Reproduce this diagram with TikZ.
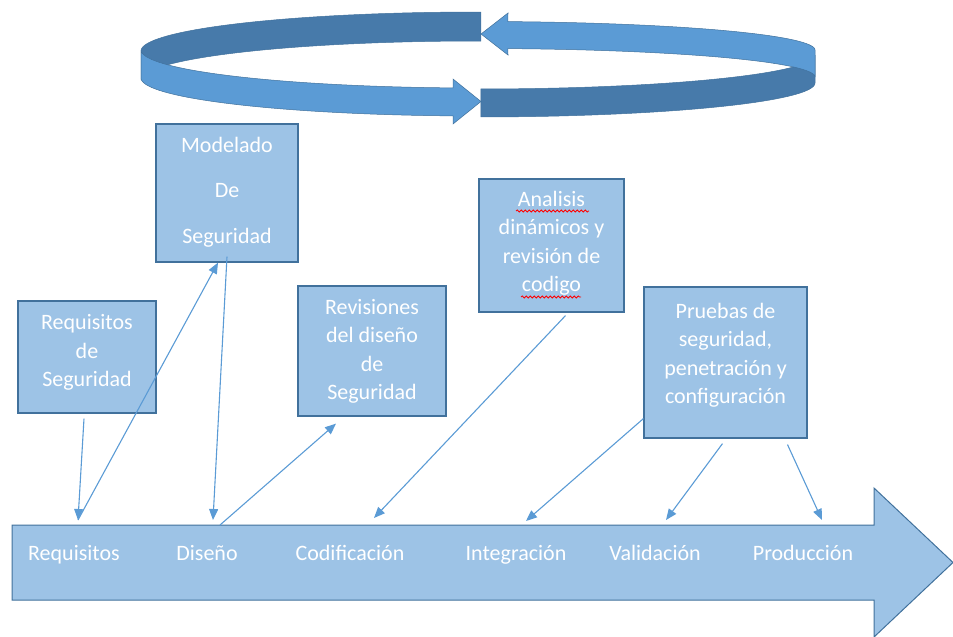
\documentclass[tikz,border=0pt]{standalone}
\usepackage{fontspec}
\setmainfont{Carlito}
\usetikzlibrary{arrows.meta, positioning, decorations.pathmorphing}
\definecolor{boxblue}{HTML}{9DC3E6}
\definecolor{boxline}{HTML}{41719C}
\definecolor{linkblue}{HTML}{5B9BD5}
\definecolor{ringdark}{HTML}{477AAA}

\begin{document}
\begin{tikzpicture}[
    x=1pt, y=-1pt,
    secbox/.style={
        rectangle,
        draw=boxline,
        line width=1.2pt,
        fill=boxblue
    },
    boxtext/.style={
        align=center,
        inner sep=0pt,
        text=white,
        font=\fontsize{22}{28.5}\selectfont,
        execute at begin node={\rule{0pt}{16pt}}
    },
    stage/.style={
        anchor=base,
        inner sep=0pt,
        text=white,
        font=\fontsize{22}{29}\selectfont
    },
    link/.style={
        -{Triangle[length=11pt,width=9pt]},
        line width=1.1pt,
        linkblue
    },
    ringpart/.style={
        draw=boxline,
        line width=0.5pt,
        samples=60
    },
    spell/.style={
        red,
        line width=0.8pt,
        decorate,
        decoration={snake, amplitude=1pt, segment length=4pt}
    }
]
\useasboundingbox (0,0) rectangle (953,637);

% ciclo superior
\filldraw[ringpart, fill=ringdark]
    plot[domain=180:270.5] ({478+337*cos(\x)},{51+39*sin(\x)})
    -- plot[domain=270.5:180] ({478+337*cos(\x)},{80+39*sin(\x)}) -- cycle;
\filldraw[ringpart, fill=ringdark]
    plot[domain=89.5:0] ({478+337*cos(\x)},{55+34*sin(\x)})
    -- plot[domain=0:89.5] ({478+337*cos(\x)},{83+34*sin(\x)}) -- cycle;
\filldraw[ringpart, fill=linkblue]
    plot[domain=275.1:360] ({478+337*cos(\x)},{50+28.5*sin(\x)})
    -- plot[domain=360:275.1] ({478+337*cos(\x)},{77+28.5*sin(\x)})
    -- (508,55) -- (481,34) -- (508,13) -- cycle;
\filldraw[ringpart, fill=linkblue]
    plot[domain=180:94.25] ({478+337*cos(\x)},{50+38*sin(\x)})
    -- (453,79) -- (481,101.5) -- (453,124)
    -- plot[domain=94.25:180] ({478+337*cos(\x)},{78+38*sin(\x)}) -- cycle;

% flecha de fases
\filldraw[draw=boxline, line width=1pt, fill=boxblue]
    (12,525) -- (874,525) -- (874,488) -- (953,562.5) -- (874,637)
    -- (874,600) -- (12,600) -- cycle;

\node[stage] (lreq) at (74,560) {Requisitos};
\node[stage] (ldis) at (207,560) {Diseño};
\node[stage] (lcod) at (350,560) {Codificación};
\node[stage] (lint) at (516,560) {Integración};
\node[stage] (lval) at (655,560) {Validación};
\node[stage] (lpro) at (803,560) {Producción};

\coordinate (reqin) at (78,520);
\coordinate (disin) at (213,520);
\coordinate (disout) at (220,525);
\coordinate (codin) at (374,518);
\coordinate (intin) at (526,521);
\coordinate (valin) at (666,520);
\coordinate (proin) at (822,520);

% cajas de actividades
\node[secbox, minimum width=138pt, minimum height=112pt] (reqsec) at (87,357) {};
\node[secbox, minimum width=142pt, minimum height=138pt] (modsec) at (227,193) {};
\node[secbox, minimum width=148pt, minimum height=130pt] (revsec) at (372,351) {};
\node[secbox, minimum width=145pt, minimum height=133pt] (anasec) at (551.5,245.5) {};
\node[secbox, minimum width=163pt, minimum height=151pt] (prusec) at (725.5,362.5) {};

\node[boxtext, below=14pt of reqsec.north] (reqtxt) {Requisitos\\de\\Seguridad};
\node[boxtext, font=\fontsize{22}{45.5}\selectfont, below=13.5pt of modsec.north] (modtxt) {Modelado\\De\\Seguridad};
\node[boxtext, below=13.5pt of revsec.north] (revtxt) {Revisiones\\del diseño\\de\\Seguridad};
\node[boxtext, below=12.5pt of anasec.north] (anatxt) {Analisis\\dinámicos y\\revisión de\\codigo};
\node[boxtext, below=16.5pt of prusec.north] (prutxt) {Pruebas de\\seguridad,\\penetración y\\configuración};

\draw[spell] (516,211) -- (589,211);
\draw[spell] (521,297) -- (581,297);

\draw[link] ([xshift=-3pt,yshift=-5pt]reqsec.south) -- (reqin);
\draw[link] (reqin) -- ([xshift=-9pt]modsec.south);
\draw[link] ([yshift=6pt]modsec.south) -- (disin);
\draw[link] (disout) -- ([xshift=-36pt,yshift=-7pt]revsec.south);
\draw[link] ([xshift=14pt,yshift=-3pt]anasec.south) -- (codin);
\draw[link] ([yshift=20pt]prusec.south west) -- (intin);
\draw[link] ([xshift=-3pt,yshift=-5pt]prusec.south) -- (valin);
\draw[link] ([xshift=62pt,yshift=-6pt]prusec.south) -- (proin);

\end{tikzpicture}
\end{document}
